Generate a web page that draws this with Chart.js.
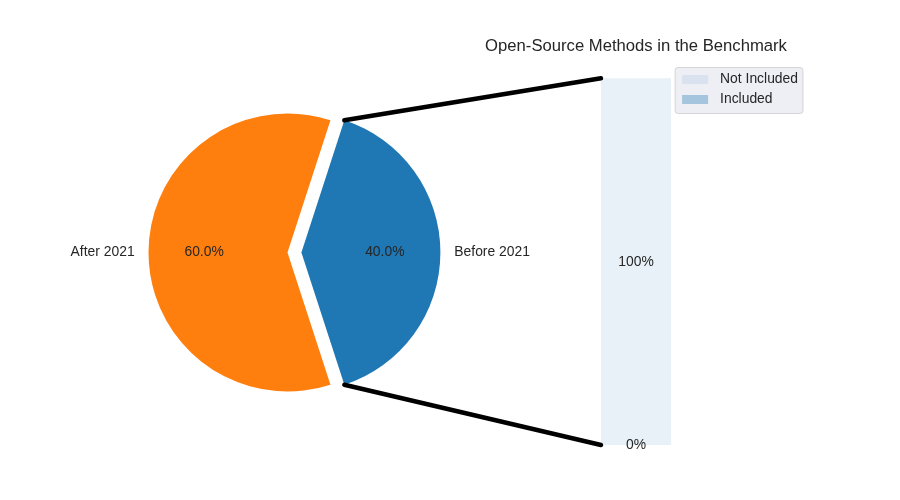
<!DOCTYPE html>
<html><head><meta charset="utf-8">
<script src="https://cdn.jsdelivr.net/npm/chart.js@4/dist/chart.umd.min.js"></script>
<style>
html,body{margin:0;padding:0;background:#fff;}
#wrap{position:relative;width:900px;height:500px;}
#wrap canvas{position:absolute;left:0;top:0;}
</style></head><body>
<div id="wrap"><canvas id="pie" width="900" height="500"></canvas><canvas id="bar" width="900" height="500"></canvas></div>
<script>
// ---- data ----
const pieLabels = ['Before 2021', 'After 2021'];
const pieValues = [40, 60];
const pieColors = ['#1f77b4', '#ff7f0e'];
const pieExplode = [0.1, 0];
const barTitle = 'Open-Source Methods in the Benchmark';
const barLabels = ['Not Included', 'Included'];
const barValues = [1.0, 0.0];
const barAlphas = [0.1, 0.35];

const FONT = '"Liberation Sans", Arial, sans-serif';
const TXT = '#262626';
const FS = 13.89;

const pieTextPlugin = {
  id: 'pieText',
  afterDatasetUpdate(chart, args) {
    const meta = chart.getDatasetMeta(args.index);
    meta.data.forEach((arc, i) => {
      const e = pieExplode[i] || 0;
      if (!e) return;
      const mid = (arc.startAngle + arc.endAngle) / 2;
      const d = e * arc.outerRadius;
      arc.x += Math.cos(mid) * d;
      arc.y += Math.sin(mid) * d;
    });
  },
  afterDatasetsDraw(chart) {
    const ctx = chart.ctx;
    const meta = chart.getDatasetMeta(0);
    const total = pieValues.reduce((a, b) => a + b, 0);
    ctx.save();
    ctx.font = FS + 'px ' + FONT;
    ctx.fillStyle = TXT;
    ctx.textBaseline = 'middle';
    meta.data.forEach((arc, i) => {
      const mid = (arc.startAngle + arc.endAngle) / 2;
      const r = arc.outerRadius;
      const c = Math.cos(mid), s = Math.sin(mid);
      ctx.textAlign = c > 0.01 ? 'left' : (c < -0.01 ? 'right' : 'center');
      ctx.fillText(pieLabels[i], arc.x + c * 1.1 * r, arc.y + s * 1.1 * r);
      ctx.textAlign = 'center';
      ctx.fillText((pieValues[i] / total * 100).toFixed(1) + '%', arc.x + c * 0.6 * r, arc.y + s * 0.6 * r);
    });
    ctx.restore();
  }
};

const pieChart = new Chart(document.getElementById('pie'), {
  type: 'pie',
  data: {
    labels: pieLabels,
    datasets: [{ data: pieValues, backgroundColor: pieColors, borderWidth: 0, hoverOffset: 0 }]
  },
  options: {
    responsive: false,
    animation: false,
    events: [],
    rotation: 18,
    layout: { padding: { left: 148.5, right: 473.5, top: 113.5, bottom: 108.5 } },
    plugins: { legend: { display: false }, tooltip: { enabled: false }, title: { display: false } }
  },
  plugins: [pieTextPlugin]
});

const barExtras = {
  id: 'barExtras',
  afterDatasetsDraw(chart) {
    const ctx = chart.ctx;
    // bar labels
    ctx.save();
    ctx.font = FS + 'px ' + FONT;
    ctx.fillStyle = TXT;
    ctx.textAlign = 'center';
    ctx.textBaseline = 'middle';
    barValues.forEach((v, i) => {
      const el = chart.getDatasetMeta(i).data[0];
      ctx.fillText(Math.round(v * 100) + '%', el.x, (el.y + el.base) / 2);
    });
    ctx.restore();
    // connection lines
    const arc = pieChart.getDatasetMeta(0).data[0];
    const bar = chart.getDatasetMeta(0).data[0];
    const r = arc.outerRadius;
    const bx = bar.x - bar.width / 2;
    ctx.save();
    ctx.strokeStyle = '#000';
    ctx.lineWidth = 4.5;
    ctx.lineCap = 'round';
    ctx.beginPath();
    ctx.moveTo(arc.x + r * Math.cos(arc.startAngle), arc.y + r * Math.sin(arc.startAngle));
    ctx.lineTo(bx, bar.y);
    ctx.moveTo(arc.x + r * Math.cos(arc.endAngle), arc.y + r * Math.sin(arc.endAngle));
    ctx.lineTo(bx, bar.base);
    ctx.stroke();
    ctx.restore();
  },
  afterDraw(chart) {
    // legend (upper right, matplotlib style)
    const ctx = chart.ctx;
    const ca = chart.chartArea;
    ctx.save();
    ctx.font = FS + 'px ' + FONT;
    const tw = Math.max(...barLabels.map(l => ctx.measureText(l).width));
    const padL = 7, sw = 26, gap = 12, padR = 5, rowH = 20;
    const right = ca.right - 8, top = ca.top + 7.5;
    const w = padL + sw + gap + tw + padR;
    const h = 12 + rowH * (barLabels.length - 1) + 14;
    const left = right - w;
    ctx.beginPath();
    ctx.roundRect(left, top, w, h, 3);
    ctx.fillStyle = 'rgba(234,234,242,0.8)';
    ctx.fill();
    ctx.strokeStyle = 'rgba(204,204,204,0.8)';
    ctx.lineWidth = 1;
    ctx.stroke();
    ctx.textBaseline = 'middle';
    ctx.textAlign = 'left';
    barLabels.forEach((l, i) => {
      const cy = top + 12 + i * rowH;
      ctx.fillStyle = chart.data.datasets[i].backgroundColor;
      ctx.fillRect(left + padL, cy - 4.5, sw, 9);
      ctx.fillStyle = TXT;
      ctx.fillText(l, left + padL + sw + gap, cy);
    });
    ctx.restore();
  }
};

const barChart = new Chart(document.getElementById('bar'), {
  type: 'bar',
  data: {
    labels: [''],
    datasets: barLabels.map((l, i) => ({
      label: l,
      data: [barValues[i]],
      backgroundColor: 'rgba(31,119,180,' + barAlphas[i] + ')',
      borderWidth: 0,
      grouped: false,
      categoryPercentage: 1,
      barPercentage: 0.2
    }))
  },
  options: {
    responsive: false,
    animation: false,
    events: [],
    layout: { padding: { left: 461, right: 89, top: 26, bottom: 55 } },
    scales: {
      x: { display: false },
      y: { display: false, min: 0, max: 1.05 }
    },
    plugins: {
      legend: { display: false },
      tooltip: { enabled: false },
      title: {
        display: true, text: barTitle, color: TXT,
        font: { family: FONT, size: 16.67, weight: 'normal' },
        padding: { top: 10, bottom: 4 }
      }
    }
  },
  plugins: [barExtras]
});
</script>
</body></html>
